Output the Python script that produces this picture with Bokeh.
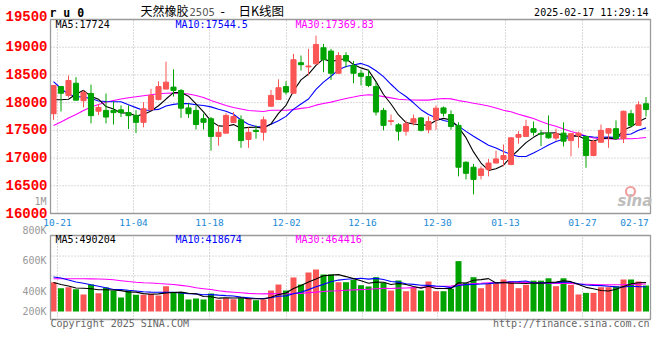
import numpy as np
from bokeh.plotting import figure
from bokeh.models import Range1d, Label, ColumnDataSource
from bokeh.core.properties import value
from bokeh.embed import file_html
from bokeh.resources import INLINE

# ---------------- data ----------------
dates = ["10-18",
         "10-21", "10-22", "10-23", "10-24", "10-25", "10-28", "10-29", "10-30", "10-31", "11-01",
         "11-04", "11-05", "11-06", "11-07", "11-08", "11-11", "11-12", "11-13", "11-14", "11-15",
         "11-18", "11-19", "11-20", "11-21", "11-22", "11-25", "11-26", "11-27", "11-28", "11-29",
         "12-02", "12-03", "12-04", "12-05", "12-06", "12-09", "12-10", "12-11", "12-12", "12-13",
         "12-16", "12-17", "12-18", "12-19", "12-20", "12-23", "12-24", "12-25", "12-26", "12-27",
         "12-30", "12-31", "01-02", "01-03", "01-06", "01-07", "01-08", "01-09", "01-10",
         "01-13", "01-14", "01-15", "01-16", "01-17", "01-20", "01-21", "01-22", "01-23", "01-24",
         "01-27", "02-05", "02-06", "02-07", "02-10", "02-11", "02-12", "02-13", "02-14", "02-17"]

opens = [17800, 18290, 18130, 18350, 18035, 18165, 17845, 17860, 17860, 17870,
         17820, 17770, 17645, 17875, 18055, 18245, 18280, 18220, 17905, 17860,
         17710, 17710, 17390, 17450, 17640, 17690, 17335, 17500, 17465, 17935,
         18055, 18290, 18170, 18720, 18645, 18700, 18990, 18930, 18530, 18850,
         18670, 18530, 18470, 18290, 17860, 17660, 17600, 17485, 17635, 17725,
         17510, 17690, 17905, 17785, 17590, 16925, 16835, 16685, 16795, 16910,
         16975, 16885, 17375, 17390, 17530, 17445, 17450, 17360, 17450, 17315,
         17405, 17390, 17045, 17285, 17450, 17530, 17350, 17800, 17590, 17980]
highs = [18320, 18300, 18490, 18460, 18220, 18325, 17975, 18165, 18020, 17950,
         17950, 17865, 18010, 18250, 18385, 18740, 18600, 18245, 17985, 17950,
         17800, 17740, 17590, 17810, 17830, 17770, 17555, 17590, 17750, 18230,
         18420, 18385, 18880, 18850, 18970, 19210, 19060, 18970, 18910, 18910,
         18750, 18595, 18595, 18370, 17905, 17785, 17630, 17680, 17785, 17740,
         17750, 17950, 17930, 17860, 17645, 16940, 16895, 16850, 16985, 17135,
         17245, 17380, 17485, 17690, 17660, 17510, 17770, 17530, 17645, 17450,
         17475, 17405, 17330, 17605, 17540, 17680, 17855, 17870, 18025, 18100]
lows = [17690, 17840, 18095, 18040, 17915, 17625, 17775, 17625, 17605, 17740,
        17525, 17450, 17555, 17860, 18040, 18240, 18110, 17725, 17725, 17515,
        17515, 17135, 17225, 17445, 17635, 17185, 17185, 17350, 17315, 17920,
        18050, 18145, 18165, 18580, 18490, 18695, 18550, 18410, 18525, 18635,
        18350, 18310, 18280, 17770, 17500, 17590, 17315, 17405, 17590, 17480,
        17450, 17510, 17750, 17510, 16670, 16615, 16345, 16615, 16670, 16905,
        16850, 16870, 17260, 17385, 17405, 17215, 17350, 17315, 17210, 17030,
        17185, 16825, 17035, 17280, 17185, 17330, 17270, 17555, 17585, 17750]
closes = [18310, 18170, 18400, 18045, 18185, 17765, 17915, 17740, 17820, 17820,
          17765, 17645, 17890, 18130, 18290, 18370, 18220, 17900, 17800, 17605,
          17645, 17390, 17465, 17770, 17750, 17315, 17465, 17480, 17690, 18130,
          18270, 18190, 18775, 18685, 18660, 19050, 18775, 18530, 18850, 18750,
          18530, 18475, 18310, 17830, 17590, 17675, 17485, 17620, 17710, 17500,
          17660, 17900, 17810, 17570, 16835, 16725, 16615, 16805, 16910, 16985,
          17045, 17365, 17425, 17570, 17465, 17430, 17365, 17440, 17305, 17440,
          17450, 17045, 17300, 17500, 17530, 17350, 17845, 17590, 17960, 17875]
volumes = [494, 393, 410, 376, 287, 455, 309, 405, 354, 236,
           354, 282, 282, 299, 270, 427, 320, 320, 202, 219,
           202, 304, 197, 224, 207, 224, 224, 191, 202, 354,
           455, 354, 574, 455, 658, 708, 624, 624, 494, 494,
           535, 444, 422, 579, 484, 354, 523, 342, 400, 354,
           506, 342, 342, 383, 850, 484, 579, 393, 467, 477,
           540, 506, 393, 450, 520, 520, 560, 427, 560, 450,
           287, 314, 314, 410, 410, 427, 540, 540, 506, 438]  # thousands of lots

# moving-average values for days whose window starts before the view
ma5_head = [18052, 18052, 18060, 18150]
ma10_head = [18380, 18255, 18150, 18110, 18100, 18075, 18030, 18020, 18015]
ma30_head = [17588, 17651, 17724, 17786, 17858, 17922, 17967, 18008, 18039, 18066,
             18087, 18107, 18125, 18143, 18160, 18169, 18174, 18169, 18156, 18129,
             18093, 18039, 17994, 17949, 17913, 17886, 17858, 17849, 17840]
vma5_head = [489, 455, 430, 396]
vma10_head = [582, 565, 531, 498, 477, 450, 427, 400, 371]
vma30_head = [552, 552, 552, 552, 552, 550, 548, 545, 535, 520,
              505, 494, 486, 480, 472, 465, 455, 440, 425, 400,
              385, 370, 350, 335, 325, 315, 305, 300, 297]

price_ticks = [16000, 16500, 17000, 17500, 18000, 18500, 19000, 19500]
date_labels = ["10-21", "11-04", "11-18", "12-02", "12-16", "12-30", "01-13", "01-27", "02-17"]
label_pos = [0.53, 10.67, 20.8, 31.07, 41.2, 51.2, 60.27, 70.53, 77.47]
grid_pos = label_pos[:-1]
vol_grid = [602000, 935000]

legend_price = ["MA5:17724", "MA10:17544.5", "MA30:17369.83"]
legend_vol = ["MA5:490204", "MA10:418674", "MA30:464416"]
vol_axis_labels = ["800K", "600K", "400K", "200K"]


def moving_average(values, n, head):
    vals = np.asarray(values, dtype=float)
    out = np.empty(len(vals))
    out[:n - 1] = head
    out[n - 1:] = np.convolve(vals, np.ones(n) / n, mode="valid")
    return out


RED = "#fb5656"
GREEN = "#00a300"
x = np.arange(len(dates))
o = np.array(opens, float)
c = np.array(closes, float)
vol = np.array(volumes, float) * 1000
colors = [RED if u else GREEN for u in (c > o)]

src = ColumnDataSource(dict(
    x=x, high=highs, low=lows,
    top=np.maximum(o, c), bottom=np.minimum(o, c),
    vol=vol, color=colors, date=dates))

ma5 = moving_average(closes, 5, ma5_head)
ma10 = moving_average(closes, 10, ma10_head)
ma30 = moving_average(closes, 30, ma30_head)
vma5 = moving_average(vol, 5, np.array(vma5_head) * 1000)
vma10 = moving_average(vol, 10, np.array(vma10_head) * 1000)
vma30 = moving_average(vol, 30, np.array(vma30_head) * 1000)

# ---------------- panel geometry (pixels of the 660x360 canvas) ----------------
XR = (-0.4, 79.6)            # index range of both panels, x = 50 .. 650 px
PR = (16000, 19500)          # price panel, y = 213 .. 19 px
VR = (-135000, 1282000)      # volume panel, y = 319 .. 235 px


def X(px):
    return XR[0] + (px - 50) * (XR[1] - XR[0]) / 600.0


def Y1(py):
    return PR[1] - (py - 19) * (PR[1] - PR[0]) / 194.0


def Y2(py):
    return VR[1] - (py - 235) * (VR[1] - VR[0]) / 84.0


p = figure(width=660, height=360,
           x_range=Range1d(X(0), X(660)), y_range=Range1d(Y1(360), Y1(0)),
           output_backend="svg", toolbar_location=None,
           x_axis_location=None, y_axis_location=None,
           min_border_left=0, min_border_right=0, min_border_top=0, min_border_bottom=0)
p.extra_y_ranges = {"vol": Range1d(Y2(360), Y2(0))}
p.outline_line_color = None
p.background_fill_color = "white"
p.border_fill_color = "white"
p.xgrid.visible = False
p.ygrid.visible = False

GRIDC = "#b4b4b4"
DOT = "1 2"
BORDER = "#9a9a9a"

# dotted grids
p.segment(x0=grid_pos, y0=[PR[0]] * len(grid_pos), x1=grid_pos, y1=[PR[1]] * len(grid_pos),
          line_color=GRIDC, line_dash=DOT, line_width=1)
inner = price_ticks[1:-1]
p.segment(x0=[XR[0]] * len(inner), y0=inner, x1=[XR[1]] * len(inner), y1=inner,
          line_color=GRIDC, line_dash=DOT, line_width=1)
p.segment(x0=grid_pos, y0=[VR[0]] * len(grid_pos), x1=grid_pos, y1=[VR[1]] * len(grid_pos),
          line_color=GRIDC, line_dash=DOT, line_width=1, y_range_name="vol")
p.segment(x0=[XR[0]] * len(vol_grid), y0=vol_grid, x1=[XR[1]] * len(vol_grid), y1=vol_grid,
          line_color=GRIDC, line_dash=DOT, line_width=1, y_range_name="vol")

# price panel
p.line(x, ma30, line_color="#ff00ff", line_width=1.1)
p.line(x, ma10, line_color="#0000ff", line_width=1.1)
p.line(x, ma5, line_color="#000000", line_width=1.1)
p.segment(x0="x", y0="high", x1="x", y1="low", line_color="color", line_width=1, source=src)
p.vbar(x="x", width=0.68, top="top", bottom="bottom", fill_color="color",
       line_color="color", line_width=1, source=src)

# volume panel
p.vbar(x="x", width=0.8, top="vol", bottom=0, fill_color="color", line_color=None,
       source=src, y_range_name="vol")
p.line(x, vma30, line_color="#ff00ff", line_width=1.1, y_range_name="vol")
p.line(x, vma10, line_color="#0000ff", line_width=1.1, y_range_name="vol")
p.line(x, vma5, line_color="#000000", line_width=1.1, y_range_name="vol")

# panel borders
p.quad(left=[XR[0]], right=[XR[1]], bottom=[PR[0]], top=[PR[1]],
       fill_color=None, line_color=BORDER, line_width=1.3)
p.quad(left=[XR[0]], right=[XR[1]], bottom=[VR[0]], top=[VR[1]],
       fill_color=None, line_color=BORDER, line_width=1.3, y_range_name="vol")

# axis tick labels
p.text(x=[X(47)] * len(price_ticks), y=price_ticks, text=[str(t) for t in price_ticks],
       text_font=value("Liberation Mono"), text_font_style="bold", text_font_size="14px",
       text_color="#ff0000", text_align="right", text_baseline="middle",
       y_offset=[-1] * (len(price_ticks) - 1) + [-4])
p.text(x=label_pos, y=[Y1(222)] * len(label_pos), text=date_labels,
       text_font=value("DejaVu Sans Mono"), text_font_size="9.5px",
       text_color="#1a8ad4", text_align="center", text_baseline="middle")


def lab(text, px, py, color="#000000", size="10px", font="DejaVu Sans Mono",
        align="left", style="normal"):
    p.add_layout(Label(x=X(px), y=Y1(py), text=text, text_color=color,
                       text_font=font, text_font_size=size, text_font_style=style,
                       text_align=align, text_baseline="middle"))


# header
lab("r u 0", 49, 12, size="11.5px", style="bold")
lab("天然橡胶", 140, 10, size="12px", font="Noto Sans CJK SC")
lab("2505", 189, 11, color="#555555", size="10px", font="DejaVu Sans")
lab("-", 220, 11, size="12px", font="DejaVu Sans")
lab("日K线图", 238, 10, size="12.5px", font="Noto Sans CJK SC")
lab("2025-02-17 11:29:14", 648, 12, size="10px", align="right")

# legends
for txt, px, col in zip(legend_price, [55, 175, 295], ["#000000", "#0000ff", "#ff00ff"]):
    lab(txt, px, 24, color=col)
for txt, px, col in zip(legend_vol, [55, 175, 295], ["#000000", "#0000ff", "#ff00ff"]):
    lab(txt, px, 238.5, color=col)

# odd axis labels of the original
lab("1M", 46, 200.5, color="#999999", align="right")
for txt, py in zip(vol_axis_labels, [230.2, 260.3, 290.7, 310.7]):
    lab(txt, 46, py, color="#999999", align="right")

# footer
lab("Copyright 2025 SINA.COM", 50, 323, color="#666666")
lab("http://finance.sina.com.cn", 649, 323, color="#666666", align="right")

# sina watermark
p.scatter([X(630)], [Y1(191)], marker="circle", size=9, fill_color=None,
          line_color="#f0a0a0", line_width=2.2)
lab("sina", 617, 200.5, color="#bdbdbd", size="15px", font="DejaVu Sans", style="bold italic")

open("out.html", "w").write(file_html(p, INLINE))
